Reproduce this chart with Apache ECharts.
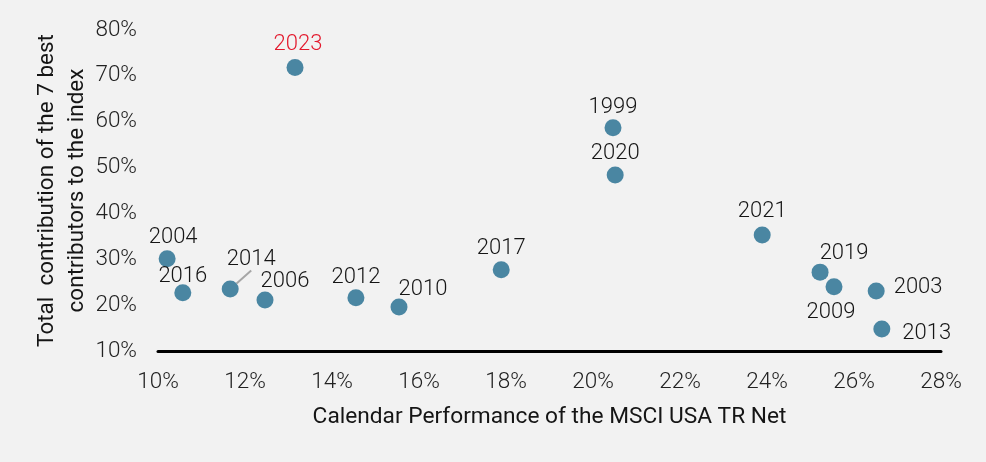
<!DOCTYPE html>
<html>
<head>
<meta charset="utf-8">
<script src="https://cdn.jsdelivr.net/npm/echarts@6/dist/echarts.min.js"></script>
<style>
html,body{margin:0;padding:0;background:#f2f2f2;}
#main{width:986px;height:462px;}
</style>
</head>
<body>
<div id="main"></div>
<script>
// Data (percent values)
const years = ['2023','2004','2016','2014','2006','2012','2010','2017','1999','2020','2021','2019','2009','2003','2013'];
const perf  = [13.15, 10.21, 10.57, 11.66, 12.46, 14.55, 15.54, 17.89, 20.46, 20.51, 23.89, 25.22, 25.54, 26.51, 26.64];
const contrib = [71.8, 30.1, 22.7, 23.5, 21.1, 21.6, 19.6, 27.7, 58.7, 48.4, 35.3, 27.2, 24.0, 23.1, 14.8];
const xTicks = [10, 12, 14, 16, 18, 20, 22, 24, 26, 28];
const yTicks = [10, 20, 30, 40, 50, 60, 70, 80];

// label placement per year (layout only)
const labelPlace = {
  '2023': {position:'top', shift:[3,0], color:'#e3192d'},
  '2004': {position:'top', shift:[6,2]},
  '2016': {position:'top', shift:[0,7]},
  '2014': {position:'top', shift:[21,-6], line:true},
  '2006': {position:'top', shift:[20,5]},
  '2012': {position:'top', shift:[0,3]},
  '2010': {position:'top', shift:[24,6]},
  '2017': {position:'top', shift:[0,2]},
  '1999': {position:'top', shift:[0,3]},
  '2020': {position:'top', shift:[0,2]},
  '2021': {position:'top', shift:[0,0]},
  '2019': {position:'top', shift:[24,5]},
  '2009': {position:'bottom', shift:[-3,2]},
  '2003': {position:'right', shift:[5,-3]},
  '2013': {position:'right', shift:[8,5]}
};

const FONT = 'Roboto';
const TXT = '#151515';

const data = years.map((y, i) => {
  const p = labelPlace[y] || {position:'top'};
  const item = {name: y, value: [perf[i], contrib[i]], label: {position: p.position}};
  if (p.color) item.label.color = p.color;
  if (p.line) item.labelLine = {show: true, lineStyle: {color: '#a6a6a6', width: 2}};
  return item;
});

const chart = echarts.init(document.getElementById('main'), null, {renderer:'canvas'});
chart.setOption({
  backgroundColor: '#f2f2f2',
  animation: false,
  grid: {left: 158, right: 45, top: 30, bottom: 111},
  xAxis: {
    type: 'value', min: xTicks[0], max: xTicks[xTicks.length-1], interval: 2,
    name: 'Calendar Performance of the MSCI USA TR Net',
    nameLocation: 'middle', nameGap: 55,
    nameTextStyle: {fontFamily: FONT, fontSize: 22.7, color: TXT, fontWeight: 400},
    axisLine: {show: true, onZero: false, lineStyle: {color: '#000', width: 3}},
    axisTick: {show: false},
    splitLine: {show: false},
    axisLabel: {formatter: '{value}%', margin: 20, fontFamily: FONT, fontSize: 22.5, color: '#222', fontWeight: 300}
  },
  yAxis: {
    type: 'value', min: yTicks[0], max: yTicks[yTicks.length-1], interval: 10,
    name: 'Total  contribution of the 7 best\ncontributors to the index',
    nameLocation: 'middle', nameGap: 66, nameRotate: 90,
    nameMoveOverlap: false,
    nameTextStyle: {fontFamily: FONT, fontSize: 22.5, color: TXT, lineHeight: 30, fontWeight: 400, align: 'center'},
    axisLine: {show: false},
    axisTick: {show: false},
    splitLine: {show: false},
    axisLabel: {formatter: '{value}%', margin: 21, fontFamily: FONT, fontSize: 22.5, color: '#222', fontWeight: 300}
  },
  series: [{
    type: 'scatter',
    symbolSize: 17,
    itemStyle: {color: '#4a86a2', opacity: 1},
    data: data,
    label: {
      show: true,
      formatter: '{b}',
      fontFamily: FONT, fontSize: 22, color: TXT, fontWeight: 300,
      distance: 4
    },
    labelLayout: function (params) {
      const p = labelPlace[years[params.dataIndex]];
      if (p && p.shift) return {dx: p.shift[0], dy: p.shift[1]};
    },
    labelLine: {show: false}
  }]
});
</script>
</body>
</html>
